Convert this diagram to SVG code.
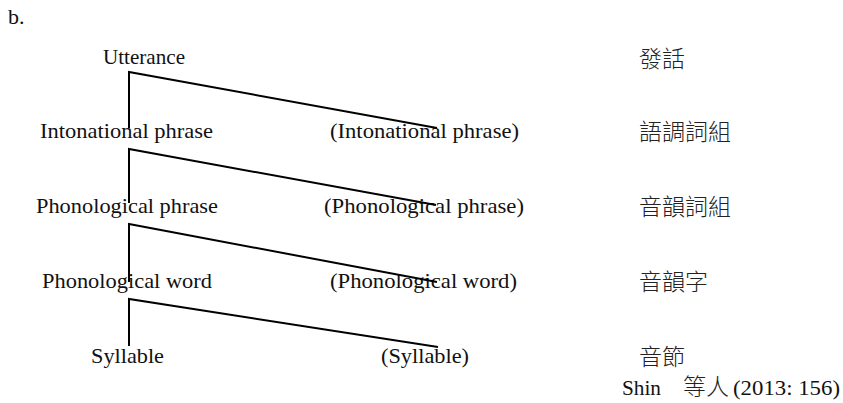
<svg xmlns="http://www.w3.org/2000/svg" width="843" height="403" viewBox="0 0 843 403">
  <style>
    .lat { font-family: "Liberation Serif", "Times New Roman", serif; font-size: 22px; fill: #111; }
    .cjk { font-family: "Noto Sans CJK TC", "Noto Sans CJK SC", sans-serif; font-size: 23px; fill: #222; font-weight: 300; }
    .branch { fill: none; stroke: #000; stroke-width: 2; stroke-linejoin: miter; }
  </style>
  <rect width="843" height="403" fill="#fff"/>

  <text class="lat" x="8" y="24" font-size="20">b.</text>

  <g id="utterance">
    <text class="lat" x="103" y="64" textLength="82" lengthAdjust="spacingAndGlyphs">Utterance</text>
    <text class="cjk" x="639" y="67">發話</text>
  </g>
  <g id="intonational-phrase">
    <text class="lat" x="40" y="138" textLength="173" lengthAdjust="spacingAndGlyphs">Intonational phrase</text>
    <text class="lat" x="330" y="138" textLength="189" lengthAdjust="spacingAndGlyphs">(Intonational phrase)</text>
    <text class="cjk" x="639" y="140">語調詞組</text>
  </g>
  <g id="phonological-phrase">
    <text class="lat" x="36" y="213" textLength="182" lengthAdjust="spacingAndGlyphs">Phonological phrase</text>
    <text class="lat" x="324" y="213" textLength="200" lengthAdjust="spacingAndGlyphs">(Phonological phrase)</text>
    <text class="cjk" x="639" y="215">音韻詞組</text>
  </g>
  <g id="phonological-word">
    <text class="lat" x="42" y="288" textLength="170" lengthAdjust="spacingAndGlyphs">Phonological word</text>
    <text class="lat" x="330" y="288" textLength="187" lengthAdjust="spacingAndGlyphs">(Phonological word)</text>
    <text class="cjk" x="639" y="290">音韻字</text>
  </g>
  <g id="syllable">
    <text class="lat" x="91" y="363" textLength="73" lengthAdjust="spacingAndGlyphs">Syllable</text>
    <text class="lat" x="381" y="363" textLength="88" lengthAdjust="spacingAndGlyphs">(Syllable)</text>
    <text class="cjk" x="639" y="365">音節</text>
  </g>
  <g id="source">
    <text class="lat" x="622" y="395" textLength="39" lengthAdjust="spacingAndGlyphs">Shin</text>
    <text class="cjk" x="683" y="395" font-size="22">等人</text>
    <text class="lat" x="733" y="395" textLength="107" lengthAdjust="spacingAndGlyphs">(2013: 156)</text>
  </g>

  <g id="connectors">
    <path class="branch" d="M129,128 V72 L437,128"/>
    <path class="branch" d="M129,203 V149 L436,205"/>
    <path class="branch" d="M129,282 V224 L437,282"/>
    <path class="branch" d="M129,346 V299 L438,347"/>
  </g>
</svg>
